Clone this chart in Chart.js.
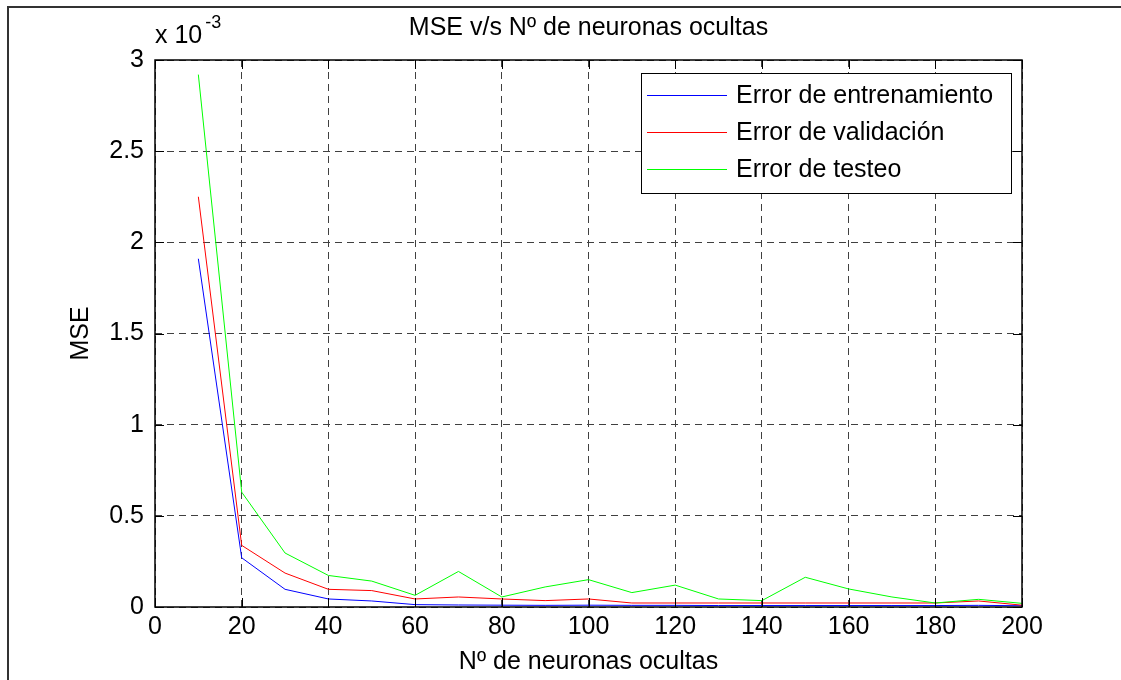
<!DOCTYPE html>
<html>
<head>
<meta charset="utf-8">
<script src="https://cdn.jsdelivr.net/npm/chart.js@4.4.0/dist/chart.umd.min.js"></script>
<style>
  html, body { margin: 0; padding: 0; background: #fff; }
  #wrap { width: 1121px; height: 680px; }
</style>
</head>
<body>
<div id="wrap"><canvas id="mse_chart" width="1121" height="680"></canvas></div>
<script>
// neuronas ocultas vs MSE (valores en unidades de 10^-3)
const neurons = [10, 20, 30, 40, 50, 60, 70, 80, 90, 100, 110, 120, 130, 140, 150, 160, 170, 180, 190, 200];
const trainErr = [1.91, 0.27, 0.097, 0.044, 0.033, 0.013, 0.011, 0.010, 0.009, 0.010, 0.009, 0.009, 0.008, 0.008, 0.008, 0.008, 0.008, 0.008, 0.009, 0.007];
const valErr = [2.25, 0.338, 0.186, 0.097, 0.090, 0.044, 0.055, 0.044, 0.035, 0.044, 0.022, 0.022, 0.022, 0.022, 0.022, 0.022, 0.022, 0.022, 0.033, 0.010];
const testErr = [2.92, 0.63, 0.296, 0.173, 0.142, 0.064, 0.195, 0.055, 0.11, 0.15, 0.079, 0.12, 0.044, 0.035, 0.163, 0.099, 0.055, 0.022, 0.042, 0.020];
const xTicks = [0, 20, 40, 60, 80, 100, 120, 140, 160, 180, 200];
const yTicks = [0, 0.5, 1, 1.5, 2, 2.5, 3];

const FONT = '"Liberation Sans", Arial, Helvetica, sans-serif';
const txtFont = { family: FONT, size: 25, weight: 'normal' };

// caja de ejes, ticks hacia dentro, exponente y leyenda al estilo MATLAB
const matlabBox = {
    id: 'matlabBox',
    afterDatasetsDraw(chart) {
        const { ctx, chartArea: a, scales: { x, y } } = chart;
        ctx.save();

        // borde de la figura
        ctx.strokeStyle = '#333';
        ctx.lineWidth = 2;
        ctx.strokeRect(8, 7, 1130, 700);

        // caja de ejes
        ctx.strokeStyle = '#000';
        ctx.lineWidth = 1.5;
        ctx.strokeRect(a.left, a.top, a.right - a.left, a.bottom - a.top);

        // ticks
        ctx.lineWidth = 1;
        ctx.beginPath();
        xTicks.forEach(v => {
            const px = Math.round(x.getPixelForValue(v)) + 0.5;
            ctx.moveTo(px, a.bottom); ctx.lineTo(px, a.bottom - 9);
            ctx.moveTo(px, a.top); ctx.lineTo(px, a.top + 9);
        });
        yTicks.forEach(v => {
            const py = Math.round(y.getPixelForValue(v)) + 0.5;
            ctx.moveTo(a.left, py); ctx.lineTo(a.left + 9, py);
            ctx.moveTo(a.right, py); ctx.lineTo(a.right - 9, py);
        });
        ctx.stroke();

        // x 10^-3
        ctx.fillStyle = '#000';
        ctx.textBaseline = 'alphabetic';
        ctx.textAlign = 'left';
        ctx.font = '25px ' + FONT;
        ctx.fillText('x 10', a.left, a.top - 17);
        const w = ctx.measureText('x 10').width;
        ctx.font = '18px ' + FONT;
        ctx.fillText('-3', a.left + w + 3, a.top - 32);

        // leyenda
        const lw = 370, lh = 120;
        const lx = a.right - 11 - lw, ly = a.top + 13;
        ctx.fillStyle = '#fff';
        ctx.fillRect(lx, ly, lw, lh);
        ctx.strokeStyle = '#000';
        ctx.lineWidth = 1;
        ctx.strokeRect(Math.round(lx) + 0.5, Math.round(ly) + 0.5, lw, lh);
        ctx.font = '25px ' + FONT;
        ctx.textBaseline = 'middle';
        chart.data.datasets.forEach((ds, i) => {
            const cy = ly + 22 + i * 37;
            ctx.strokeStyle = ds.borderColor;
            ctx.beginPath();
            ctx.moveTo(lx + 6, Math.round(cy) + 0.5);
            ctx.lineTo(lx + 86, Math.round(cy) + 0.5);
            ctx.stroke();
            ctx.fillStyle = '#000';
            ctx.fillText(ds.label, lx + 95, cy + 1);
        });
        ctx.restore();
    }
};

new Chart(document.getElementById('mse_chart'), {
    type: 'line',
    data: {
        datasets: [{
            label: 'Error de entrenamiento',
            data: neurons.map((n, i) => ({ x: n, y: trainErr[i] })),
            borderColor: '#0000ff',
            borderWidth: 1,
            pointRadius: 0,
            order: 3
        }, {
            label: 'Error de validación',
            data: neurons.map((n, i) => ({ x: n, y: valErr[i] })),
            borderColor: '#ff0000',
            borderWidth: 1,
            pointRadius: 0,
            order: 2
        }, {
            label: 'Error de testeo',
            data: neurons.map((n, i) => ({ x: n, y: testErr[i] })),
            borderColor: '#00ff00',
            borderWidth: 1,
            pointRadius: 0,
            order: 1
        }]
    },
    options: {
        responsive: false,
        animation: false,
        devicePixelRatio: 1,
        clip: false,
        layout: { padding: { right: 99 } },
        plugins: {
            legend: { display: false },
            tooltip: { enabled: false },
            title: {
                display: true,
                fullSize: false,
                text: 'MSE v/s Nº de neuronas ocultas',
                color: '#000',
                font: txtFont,
                padding: { top: 13, bottom: 17 }
            }
        },
        scales: {
            x: {
                type: 'linear',
                min: 0,
                max: 200,
                afterBuildTicks: s => { s.ticks = xTicks.map(v => ({ value: v })); },
                afterFit: s => { s.height = 73; },
                grid: { color: '#404040', lineWidth: 1, drawTicks: false },
                border: { display: false, dash: [7, 5] },
                ticks: { color: '#000', font: txtFont, padding: 5, maxRotation: 0, autoSkip: false },
                title: { display: true, text: 'Nº de neuronas ocultas', color: '#000', font: txtFont, padding: { top: 0, bottom: 3 } }
            },
            y: {
                min: 0,
                max: 3,
                afterBuildTicks: s => { s.ticks = yTicks.map(v => ({ value: v })); },
                afterFit: s => { s.width = 155; },
                grid: { color: '#404040', lineWidth: 1, drawTicks: false },
                border: { display: false, dash: [7, 5] },
                ticks: { color: '#000', font: txtFont, padding: 11, callback: v => String(v) },
                title: { display: true, text: 'MSE', color: '#000', font: txtFont, padding: { top: 66, bottom: 0 } }
            }
        }
    },
    plugins: [matlabBox]
});
</script>
</body>
</html>
